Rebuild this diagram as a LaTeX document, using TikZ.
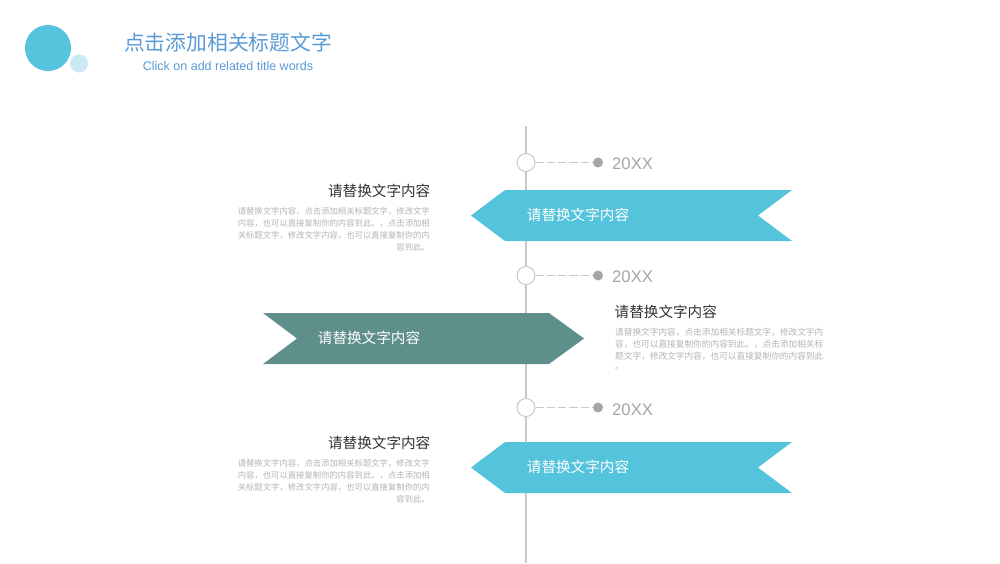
\documentclass[tikz,border=0pt]{standalone}
\usepackage{fontspec}
\setmainfont{Liberation Sans}
\newfontfamily\cjk{Noto Sans CJK SC}
\definecolor{cyanb}{HTML}{54C3DC}
\definecolor{greenb}{HTML}{5F8F8B}
\definecolor{lightc}{HTML}{CBE9F2}
\definecolor{titleb}{HTML}{5B9BD5}
\definecolor{axisg}{HTML}{C8C8C8}
\definecolor{dotg}{HTML}{A6A6A6}
\definecolor{bodyg}{HTML}{B4B4B4}
\definecolor{headk}{HTML}{333333}
\tikzset{
  x=1pt,y=-1pt,
  ring/.style={circle,draw=axisg,fill=white,line width=1pt,minimum size=18pt,inner sep=0pt},
  dot/.style={circle,fill=dotg,minimum size=10pt,inner sep=0pt},
  year/.style={anchor=west,inner sep=0pt,text=dotg,font=\fontsize{16.7}{20}\selectfont},
  dashl/.style={draw=axisg,line width=1pt,dash pattern=on 8.3pt off 3pt},
  bannertext/.style={anchor=center,inner sep=0pt,text=white,font=\cjk\fontsize{14.6}{18}\selectfont},
  headl/.style={inner sep=0pt,text=headk,font=\cjk\fontsize{14.6}{18}\selectfont},
  bodyl/.style={inner sep=0pt,text=bodyg,font=\cjk\fontsize{8.35}{12}\selectfont},
  bodyr/.style={inner sep=0pt,text=bodyg,font=\cjk\fontsize{8.67}{12}\selectfont},
}
\begin{document}
\begin{tikzpicture}
\useasboundingbox (0,0) rectangle (1000,563);
\fill[white] (0,0) rectangle (1000,563);
% header
\node[circle,fill=cyanb,minimum size=46pt,inner sep=0pt] (big) at (48,48) {};
\node[circle,fill=lightc,minimum size=18pt,inner sep=0pt] (small) at (79,63.5) {};
\node[inner sep=0pt,text=titleb,font=\cjk\fontsize{20.8}{24}\selectfont] (title) at (228,42.5) {点击添加相关标题文字};
\node[inner sep=0pt,text=titleb,font=\fontsize{12.5}{15}\selectfont] (subtitle) at (228,66.5) {Click on add related title words};
% axis
\coordinate (axtop) at (526,126);
\coordinate (axbot) at (526,563);
\draw[axisg,line width=1.2pt] (axtop) -- (axbot);
% year markers
\node[ring] (r1) at (526,162.5) {};
\node[ring] (r2) at (526,275.5) {};
\node[ring] (r3) at (526,407.5) {};
\node[dot] (d1) at (598,162.5) {};
\node[dot] (d2) at (598,275.5) {};
\node[dot] (d3) at (598,407.5) {};
\draw[dashl] (r1) -- (d1);
\draw[dashl] (r2) -- (d2);
\draw[dashl] (r3) -- (d3);
\node[year] (y1) at (612,164) {20XX};
\node[year] (y2) at (612,277) {20XX};
\node[year] (y3) at (612,410) {20XX};
% banners
\fill[cyanb] (471,215.5) [rounded corners=1pt] -- (505,190) [sharp corners] -- (792,190) -- (758,215.5) -- (792,241) [rounded corners=1pt] -- (505,241) [sharp corners] -- cycle;
\fill[greenb] (263,313) -- (549,313) -- (584,338.5) -- (549,364) -- (263,364) -- (297,338.5) -- cycle;
\fill[cyanb] (471,467.5) [rounded corners=1pt] -- (505,442) [sharp corners] -- (792,442) -- (758,467.5) -- (792,493) [rounded corners=1pt] -- (505,493) [sharp corners] -- cycle;
\node[bannertext] (b1) at (578,215) {请替换文字内容};
\node[bannertext] (b2) at (369,338) {请替换文字内容};
\node[bannertext] (b3) at (578,467) {请替换文字内容};
% left block 1
\node[headl,anchor=east] (h1) at (430.5,191) {请替换文字内容};
\node[bodyl,anchor=east] (t1a) at (430,211.5) {请替换文字内容，点击添加相关标题文字，修改文字};
\node[bodyl,anchor=east] (t1b) at (430,223.5) {内容，也可以直接复制你的内容到此。，点击添加相};
\node[bodyl,anchor=east] (t1c) at (430,235.5) {关标题文字，修改文字内容，也可以直接复制你的内};
\node[bodyl,anchor=east] (t1d) at (430,247.5) {容到此。};
% right block
\node[headl,anchor=west] (h2) at (614.5,312) {请替换文字内容};
\node[bodyr,anchor=west] (t2a) at (615,332.5) {请替换文字内容，点击添加相关标题文字，修改文字内};
\node[bodyr,anchor=west] (t2b) at (615,344.5) {容，也可以直接复制你的内容到此。，点击添加相关标};
\node[bodyr,anchor=west] (t2c) at (615,356.5) {题文字，修改文字内容，也可以直接复制你的内容到此};
\node[bodyr,anchor=west] (t2d) at (615,368.5) {。};
% left block 2
\node[headl,anchor=east] (h3) at (430.5,443) {请替换文字内容};
\node[bodyl,anchor=east] (t3a) at (430,463.5) {请替换文字内容，点击添加相关标题文字，修改文字};
\node[bodyl,anchor=east] (t3b) at (430,475.5) {内容，也可以直接复制你的内容到此。，点击添加相};
\node[bodyl,anchor=east] (t3c) at (430,487.5) {关标题文字，修改文字内容，也可以直接复制你的内};
\node[bodyl,anchor=east] (t3d) at (430,499.5) {容到此。};
\end{tikzpicture}
\end{document}
